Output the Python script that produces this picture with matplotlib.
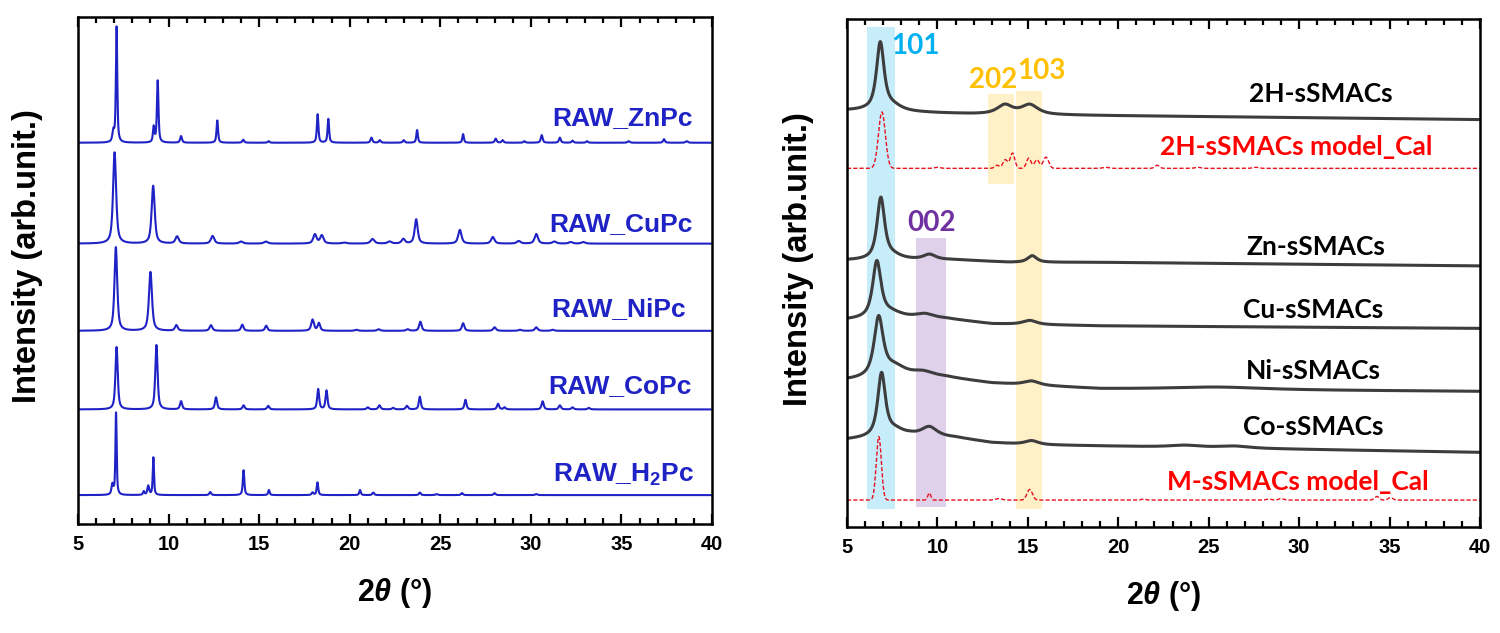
import numpy as np
import matplotlib
matplotlib.use("Agg")
import matplotlib.pyplot as plt
from matplotlib.ticker import MultipleLocator

plt.rcParams['font.family'] = ['Liberation Sans', 'DejaVu Sans']
plt.rcParams['mathtext.fontset'] = 'custom'
plt.rcParams['mathtext.rm'] = 'Liberation Sans:bold'
plt.rcParams['mathtext.it'] = 'Liberation Sans:bold:italic'
plt.rcParams['mathtext.bf'] = 'Liberation Sans:bold'

# ---- left panel: raw phthalocyanines (peak lists) ----
# baseline level, peak centre (deg), height, FWHM (deg) -- all in axes-height units
ZNPC_BASE = 0.752
ZNPC_POS = [6.95, 7.13, 9.18, 9.40, 10.69, 12.69, 14.12, 15.52, 18.23, 18.82, 21.2, 21.66,
            22.98, 23.72, 26.26, 28.06, 28.44, 29.64, 30.6, 31.6, 32.3, 33.1, 35.4, 37.35, 38.6]
ZNPC_INT = [0.02, 0.228, 0.03, 0.122, 0.013, 0.044, 0.006, 0.003, 0.056, 0.047, 0.010, 0.005,
            0.005, 0.025, 0.017, 0.008, 0.005, 0.003, 0.015, 0.010, 0.004, 0.003, 0.003, 0.007, 0.003]
ZNPC_FWHM = [0.12, 0.09, 0.1, 0.1, 0.12, 0.1, 0.12, 0.12, 0.1, 0.1, 0.12, 0.12,
             0.12, 0.1, 0.1, 0.12, 0.12, 0.12, 0.12, 0.12, 0.12, 0.12, 0.15, 0.12, 0.15]

CUPC_BASE = 0.553
CUPC_POS = [7.02, 9.15, 10.47, 12.43, 14.0, 15.37, 18.08, 18.46, 19.7, 21.26, 22.2, 22.96,
            23.67, 26.08, 27.9, 29.33, 30.3, 31.3, 32.2, 32.9]
CUPC_INT = [0.180, 0.114, 0.014, 0.015, 0.004, 0.004, 0.018, 0.016, 0.002, 0.009, 0.004, 0.009,
            0.048, 0.027, 0.013, 0.005, 0.019, 0.004, 0.003, 0.003]
CUPC_FWHM = [0.2, 0.2, 0.22, 0.22, 0.25, 0.25, 0.22, 0.22, 0.3, 0.25, 0.25, 0.22,
             0.2, 0.22, 0.22, 0.25, 0.22, 0.25, 0.25, 0.25]

NIPC_BASE = 0.381
NIPC_POS = [7.09, 9.0, 10.43, 12.34, 14.07, 15.39, 17.95, 18.3, 20.37, 21.6, 23.2, 23.9,
            26.26, 28.0, 29.4, 30.3, 31.2]
NIPC_INT = [0.165, 0.116, 0.011, 0.011, 0.012, 0.010, 0.022, 0.015, 0.002, 0.003, 0.003, 0.018,
            0.015, 0.007, 0.002, 0.007, 0.002]
NIPC_FWHM = [0.18, 0.2, 0.18, 0.18, 0.16, 0.16, 0.18, 0.16, 0.2, 0.2, 0.2, 0.16,
             0.16, 0.18, 0.2, 0.18, 0.2]

COPC_BASE = 0.226
COPC_POS = [7.13, 9.33, 10.69, 12.62, 14.14, 15.5, 18.26, 18.72, 21.0, 21.64, 22.4, 23.16,
            23.87, 26.39, 28.19, 28.55, 30.65, 31.6, 32.3, 33.2]
COPC_INT = [0.123, 0.127, 0.016, 0.024, 0.008, 0.007, 0.040, 0.037, 0.004, 0.008, 0.003, 0.007,
            0.025, 0.019, 0.011, 0.004, 0.016, 0.008, 0.004, 0.003]
COPC_FWHM = [0.15, 0.15, 0.14, 0.14, 0.14, 0.14, 0.13, 0.13, 0.15, 0.15, 0.15, 0.15,
             0.13, 0.13, 0.14, 0.14, 0.14, 0.15, 0.15, 0.15]

H2PC_BASE = 0.057
H2PC_POS = [6.9, 7.1, 8.63, 8.88, 9.16, 12.3, 14.14, 15.54, 17.95, 18.22, 20.57, 21.3,
            23.87, 24.8, 26.2, 28.0, 30.3]
H2PC_INT = [0.02, 0.162, 0.007, 0.018, 0.074, 0.006, 0.049, 0.010, 0.005, 0.025, 0.010, 0.005,
            0.005, 0.002, 0.004, 0.004, 0.002]
H2PC_FWHM = [0.12, 0.08, 0.1, 0.12, 0.08, 0.12, 0.1, 0.1, 0.12, 0.1, 0.1, 0.12,
             0.12, 0.15, 0.12, 0.12, 0.15]

LEFT_LABELS = ["RAW_ZnPc", "RAW_CuPc", "RAW_NiPc", "RAW_CoPc", r"RAW_H$_2$Pc"]
LEFT_LABEL_X = [31.2, 31.0, 31.1, 30.95, 31.2]
LEFT_LABEL_Y = [0.801, 0.592, 0.425, 0.273, 0.097]

# ---- right panel: sSMACs (measured) and calculated patterns ----
# background anchors (deg, level) read along each trace, then peaks / broad humps on top
TWOH_BG_X = [5, 6, 10, 12, 19, 30, 40]
TWOH_BG_Y = [0.820, 0.820, 0.815, 0.813, 0.810, 0.806, 0.802]
TWOH_POS = [6.84, 7.5, 13.73, 15.1]
TWOH_INT = [0.132, 0.010, 0.018, 0.019]
TWOH_FWHM = [0.5, 1.2, 1.0, 1.1]

ZN_BG_X = [5, 8.5, 11, 14, 19, 40]
ZN_BG_Y = [0.525, 0.526, 0.526, 0.521, 0.521, 0.514]
ZN_POS = [6.87, 7.5, 9.56, 15.24]
ZN_INT = [0.120, 0.008, 0.010, 0.013]
ZN_FWHM = [0.5, 1.2, 0.8, 0.6]

CU_BG_X = [5, 8, 10.5, 13, 19, 40]
CU_BG_Y = [0.408, 0.412, 0.410, 0.400, 0.396, 0.391]
CU_POS = [6.65, 7.4, 9.3, 15.1]
CU_INT = [0.110, 0.010, 0.008, 0.008]
CU_FWHM = [0.55, 1.3, 1.2, 0.9]

NI_BG_X = [5, 8, 10.5, 13, 19, 40]
NI_BG_Y = [0.289, 0.294, 0.294, 0.283, 0.272, 0.267]
NI_POS = [6.75, 7.6, 9.2, 15.2, 25.5]
NI_INT = [0.115, 0.020, 0.010, 0.008, 0.005]
NI_FWHM = [0.6, 1.5, 1.5, 1.0, 6.0]

CO_BG_X = [5, 8.5, 11, 13, 15, 20, 30, 40]
CO_BG_Y = [0.172, 0.180, 0.176, 0.166, 0.162, 0.159, 0.153, 0.147]
CO_POS = [6.91, 7.6, 9.55, 15.2, 23.7, 26.4]
CO_INT = [0.122, 0.012, 0.018, 0.008, 0.004, 0.004]
CO_FWHM = [0.5, 1.3, 1.0, 0.9, 2.0, 2.0]

CAL2H_BASE = 0.706
CAL2H_POS = [6.93, 10.0, 13.3, 13.75, 14.15, 15.05, 15.5, 16.0, 19.3, 22.15, 24.4, 27.6]
CAL2H_INT = [0.111, 0.002, 0.006, 0.017, 0.030, 0.020, 0.017, 0.022, 0.002, 0.006, 0.002, 0.002]
CAL2H_FWHM = [0.45, 0.4, 0.3, 0.3, 0.3, 0.3, 0.3, 0.35, 0.4, 0.3, 0.4, 0.4]

CALM_BASE = 0.053
CALM_POS = [6.76, 9.55, 13.4, 15.1, 21.4, 28.3, 29.0, 34.3, 35.05]
CALM_INT = [0.125, 0.014, 0.003, 0.021, 0.002, 0.002, 0.003, 0.007, 0.005]
CALM_FWHM = [0.33, 0.2, 0.4, 0.35, 0.3, 0.3, 0.3, 0.3, 0.3]

RIGHT_LABELS = ["2H-sSMACs", "2H-sSMACs model_Cal", "Zn-sSMACs", "Cu-sSMACs",
                "Ni-sSMACs", "Co-sSMACs", "M-sSMACs model_Cal"]
RIGHT_LABEL_X = [27.24, 22.28, 27.1, 26.9, 27.06, 26.9, 22.7]
RIGHT_LABEL_Y = [0.852, 0.749, 0.552, 0.427, 0.308, 0.196, 0.089]
RIGHT_LABEL_COLORS = ["black", "red", "black", "black", "black", "black", "red"]

# highlighted reflection bands: (x0, x1, y0, y1)
BAND_LABELS = ["101", "002", "202", "103"]
BAND_X0 = [6.09, 8.8, 12.8, 14.33]
BAND_X1 = [7.64, 10.45, 14.25, 15.78]
BAND_Y0 = [0.035, 0.039, 0.676, 0.035]
BAND_Y1 = [0.984, 0.568, 0.852, 0.859]
BAND_COLORS = ["#00b0f0", "#7030a0", "#ffc000", "#ffc000"]
BAND_TEXT_X = [7.47, 8.33, 11.75, 14.4]
BAND_TEXT_Y = [0.947, 0.599, 0.880, 0.898]

BLUE = "#1f22c4"
GRAY = "#3d3d3d"
RED = "#e8101c"

x = np.linspace(5, 40, 3501)


def profile(pos, amp, fwhm, eta):
    y = np.zeros_like(x)
    for c, h, w in zip(pos, amp, fwhm):
        d = (x - c) / (w / 2)
        y += h * (eta / (1 + d ** 2) + (1 - eta) * np.exp(-np.log(2) * d ** 2))
    return y


def style_axes(ax, ylab_x):
    ax.set_xlim(5, 40)
    ax.set_ylim(0, 1)
    ax.xaxis.set_major_locator(MultipleLocator(5))
    ax.xaxis.set_minor_locator(MultipleLocator(1))
    ax.tick_params(axis='x', which='both', direction='in', top=True, bottom=True,
                   width=1.6, labelsize=14.5, pad=8)
    ax.tick_params(axis='x', which='major', length=7.5)
    ax.tick_params(axis='x', which='minor', length=4)
    ax.tick_params(axis='y', which='both', left=False, right=False, labelleft=False)
    for lab in ax.get_xticklabels():
        lab.set_fontweight('bold')
    for s in ax.spines.values():
        s.set_linewidth(1.8)
    ax.set_xlabel(r"$\mathit{2\theta}$ (°)", fontsize=22, fontweight='bold', va='center')
    ax.xaxis.set_label_coords(0.5, -0.136)
    ax.set_ylabel("Intensity (arb.unit.)", fontsize=23.5, fontweight='bold', va='center')
    ax.yaxis.set_label_coords(ylab_x, 0.528)


fig = plt.figure(figsize=(15, 6.33), dpi=100)
ax1 = fig.add_axes([78 / 1500, 1 - 524 / 633, 634 / 1500, 507 / 633])
ax2 = fig.add_axes([847 / 1500, 1 - 527 / 633, 633 / 1500, 508 / 633])

# left panel
left_sets = [
    (ZNPC_BASE, ZNPC_POS, ZNPC_INT, ZNPC_FWHM),
    (CUPC_BASE, CUPC_POS, CUPC_INT, CUPC_FWHM),
    (NIPC_BASE, NIPC_POS, NIPC_INT, NIPC_FWHM),
    (COPC_BASE, COPC_POS, COPC_INT, COPC_FWHM),
    (H2PC_BASE, H2PC_POS, H2PC_INT, H2PC_FWHM),
]
for base, pos, amp, fw in left_sets:
    ax1.plot(x, base + profile(pos, amp, fw, 0.7), color=BLUE, lw=1.5)
for lab, lx, ly in zip(LEFT_LABELS, LEFT_LABEL_X, LEFT_LABEL_Y):
    ax1.text(lx, ly, lab, color=BLUE, fontsize=19, fontweight='bold', va='center', ha='left')
style_axes(ax1, -0.080)

# right panel
for lab, x0, x1, y0, y1, c, tx, ty in zip(BAND_LABELS, BAND_X0, BAND_X1, BAND_Y0, BAND_Y1,
                                          BAND_COLORS, BAND_TEXT_X, BAND_TEXT_Y):
    ax2.fill_between([x0, x1], y0, y1, color=c, alpha=0.22, lw=0, zorder=0)
    ax2.text(tx, ty, lab, color=c, fontsize=20, fontweight='bold', family=['Lato', 'DejaVu Sans'],
             va='center', ha='left')

measured = [
    (TWOH_BG_X, TWOH_BG_Y, TWOH_POS, TWOH_INT, TWOH_FWHM),
    (ZN_BG_X, ZN_BG_Y, ZN_POS, ZN_INT, ZN_FWHM),
    (CU_BG_X, CU_BG_Y, CU_POS, CU_INT, CU_FWHM),
    (NI_BG_X, NI_BG_Y, NI_POS, NI_INT, NI_FWHM),
    (CO_BG_X, CO_BG_Y, CO_POS, CO_INT, CO_FWHM),
]
for bx, by, pos, amp, fw in measured:
    ax2.plot(x, np.interp(x, bx, by) + profile(pos, amp, fw, 0.8), color=GRAY, lw=2.2)

for base, pos, amp, fw in [(CAL2H_BASE, CAL2H_POS, CAL2H_INT, CAL2H_FWHM),
                           (CALM_BASE, CALM_POS, CALM_INT, CALM_FWHM)]:
    ax2.plot(x, base + profile(pos, amp, fw, 0.0), color=RED, lw=1.0,
             linestyle=(0, (3, 1.5)))

for lab, lx, ly, c in zip(RIGHT_LABELS, RIGHT_LABEL_X, RIGHT_LABEL_Y, RIGHT_LABEL_COLORS):
    ax2.text(lx, ly, lab, color=c, fontsize=19, fontweight='bold', family=['Lato', 'DejaVu Sans'],
             va='center', ha='left')
style_axes(ax2, -0.076)

fig.savefig("out.png", dpi=100)
